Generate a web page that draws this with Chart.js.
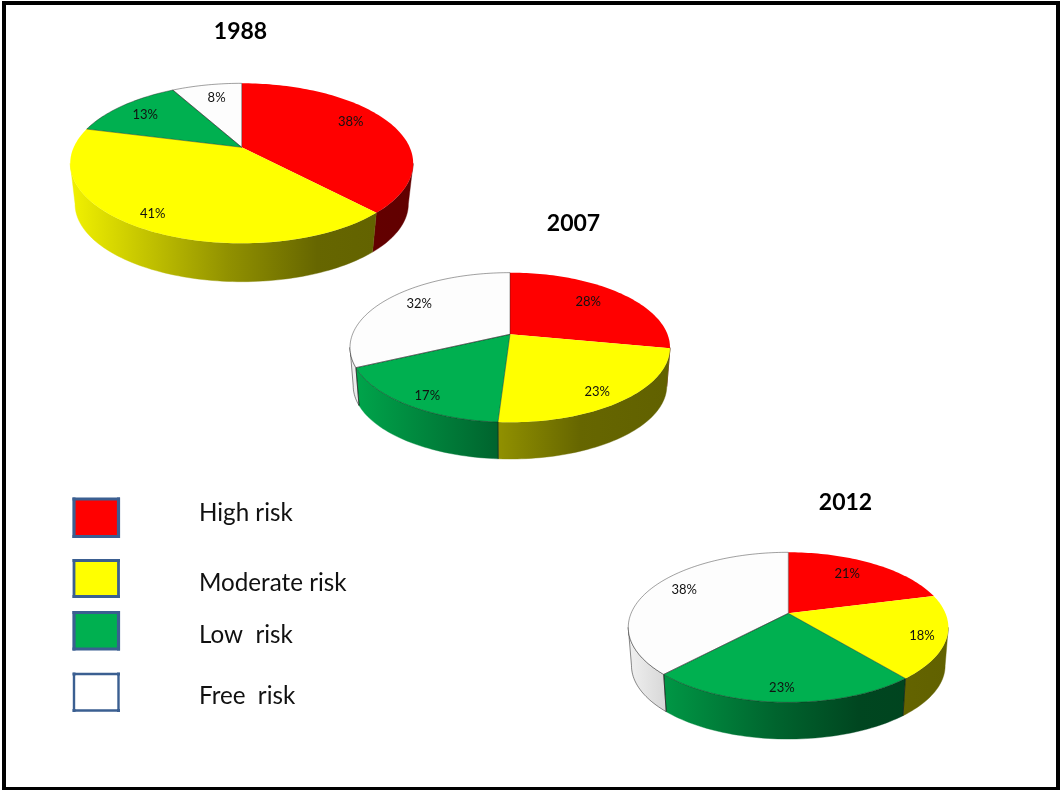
<!DOCTYPE html>
<html>
<head>
<meta charset="utf-8">
<script src="https://cdn.jsdelivr.net/npm/chart.js@4"></script>
<style>
  html, body { margin: 0; padding: 0; background: #fff; width: 1060px; height: 791px; overflow: hidden; }
  #frame { position: absolute; left: 2px; top: 1px; width: 1050px; height: 782px; border: solid #000; border-width: 4px 4px 3px 4px; }
  canvas { position: absolute; left: 0; top: 0; }
</style>
</head>
<body>
<div id="frame"></div>
<canvas id="pie1988" width="1060" height="791"></canvas>
<canvas id="pie2007" width="1060" height="791"></canvas>
<canvas id="pie2012" width="1060" height="791"></canvas>
<script>
// Risk categories shared by all three pies
const categories = ['High risk', 'Moderate risk', 'Low  risk', 'Free  risk'];

// Share of each category per survey year (percent)
const values1988 = [38, 41, 13, 8];
const values2007 = [28, 23, 17, 32];
const values2012 = [21, 18, 23, 38];

const sliceColors = [[255, 0, 0], [255, 255, 0], [0, 176, 80], [253, 253, 253]];
const outlined = [false, false, true, true];
const FONT = 'Lato, "Open Sans", sans-serif';

// Perspective disc: apex position, axis scales, foreshortening, wall depth and taper
const discs = {
  1988: { cx: 241.7, cy: 147.3, a: 168, b: 76.8, p: 0.2, s: 0.972, by: 188.4,
          title: { x: 240.5, y: 39 },
          labelR: [0.782, 0.869, 0.784, 0.751], labelNudge: [-5.6, 0.7, -1, 1.2] },
  2007: { cx: 510, cy: 334.3, a: 157.5, b: 72.5, p: 0.176, s: 0.98, by: 372.8,
          title: { x: 573.5, y: 231 },
          labelR: [0.728, 0.848, 0.867, 0.765], labelNudge: [-2.6, 2.8, -2.4, 3.3] },
  2012: { cx: 788.3, cy: 613.3, a: 157.2, b: 72.4, p: 0.187, s: 0.98, by: 651.8,
          title: { x: 845.5, y: 510 },
          labelR: [0.731, 0.855, 0.859, 0.784], labelNudge: [-3, 2, 0.5, 4.4] }
};

// Legend rows: swatch box and text baseline
const legendRows = [
  { top: 499, bottom: 536.5, base: 521, lw: 3.2 },
  { top: 560.5, bottom: 596.5, base: 591, lw: 2.8 },
  { top: 612.5, bottom: 649, base: 643, lw: 3.2 },
  { top: 674, bottom: 710.5, base: 704, lw: 2.4 }
];

function shade(rgb, f) {
  return `rgb(${rgb.map(c => Math.round(c * f)).join(',')})`;
}

function topPoint(d, angle, r) {
  const u = r * Math.cos(angle), v = r * Math.sin(angle), w = 1 - d.p * v;
  return [d.cx + d.a * u / w, d.cy + d.b * v / w];
}

function bottomPoint(d, angle) {
  const t = topPoint(d, angle, 1);
  return [d.cx + (t[0] - d.cx) * d.s, d.by + (t[1] - d.cy) * d.s];
}

function arcSamples(start, end) {
  const n = Math.max(4, Math.ceil((end - start) * 40)), out = [];
  for (let i = 0; i <= n; i++) out.push(start + (end - start) * i / n);
  return out;
}

// Wall lighting runs left to right across the disc
function wallGradient(ctx, d, rgb) {
  const half = d.a / Math.sqrt(1 - d.p * d.p);
  const g = ctx.createLinearGradient(d.cx - half, 0, d.cx + half, 0);
  g.addColorStop(0, shade(rgb, 0.95));
  g.addColorStop(0.46, shade(rgb, 0.57));
  g.addColorStop(0.72, shade(rgb, 0.4));
  g.addColorStop(1, shade(rgb, 0.38));
  return g;
}

const pie3d = {
  id: 'pie3d',
  beforeDatasetsDraw(chart) {
    const ctx = chart.ctx, d = discs[chart.options.plugins.pie3d.year];
    const arcs = chart.getDatasetMeta(0).data;
    const values = chart.data.datasets[0].data;
    // the wall is visible between the two silhouette angles of the disc
    const frontStart = Math.asin(d.p), frontEnd = Math.PI - frontStart;
    ctx.save();

    arcs.forEach((arc, i) => {
      const from = Math.max(arc.startAngle, frontStart);
      const to = Math.min(arc.endAngle, frontEnd);
      if (to <= from) return;
      const angles = arcSamples(from, to);
      ctx.beginPath();
      angles.forEach((a, k) => {
        const p = topPoint(d, a, 1);
        k ? ctx.lineTo(p[0], p[1]) : ctx.moveTo(p[0], p[1]);
      });
      angles.slice().reverse().forEach(a => {
        const p = bottomPoint(d, a);
        ctx.lineTo(p[0], p[1]);
      });
      ctx.closePath();
      const wall = wallGradient(ctx, d, sliceColors[i]);
      ctx.fillStyle = wall;
      ctx.fill();
      // the pale wall needs an edge to stand out from the page
      ctx.strokeStyle = i === 3 ? 'rgba(30,30,30,0.65)' : wall;
      ctx.lineWidth = i === 3 ? 0.8 : 0.4;
      ctx.stroke();
    });

    // vertical seams on the front of the wall next to outlined slices
    arcs.forEach((arc, i) => {
      const next = (i + 1) % arcs.length;
      if ((outlined[i] || outlined[next]) && arc.endAngle > frontStart && arc.endAngle < frontEnd) {
        const t = topPoint(d, arc.endAngle, 1), b = bottomPoint(d, arc.endAngle);
        ctx.beginPath();
        ctx.moveTo(t[0], t[1]);
        ctx.lineTo(b[0], b[1]);
        ctx.strokeStyle = 'rgba(20,20,20,0.7)';
        ctx.lineWidth = 0.8;
        ctx.stroke();
      }
    });

    // top faces
    arcs.forEach((arc, i) => {
      ctx.beginPath();
      ctx.moveTo(d.cx, d.cy);
      arcSamples(arc.startAngle, arc.endAngle).forEach(a => {
        const p = topPoint(d, a, 1);
        ctx.lineTo(p[0], p[1]);
      });
      ctx.closePath();
      ctx.fillStyle = shade(sliceColors[i], 1);
      ctx.fill();
    });
    arcs.forEach((arc, i) => {
      if (!outlined[i]) return;
      ctx.beginPath();
      ctx.moveTo(d.cx, d.cy);
      arcSamples(arc.startAngle, arc.endAngle).forEach(a => {
        const p = topPoint(d, a, 1);
        ctx.lineTo(p[0], p[1]);
      });
      ctx.closePath();
      ctx.strokeStyle = 'rgba(30,30,30,0.6)';
      ctx.lineWidth = 0.7;
      ctx.stroke();
    });

    // percentage labels
    ctx.fillStyle = '#111';
    ctx.font = `13px ${FONT}`;
    ctx.textAlign = 'center';
    ctx.textBaseline = 'middle';
    arcs.forEach((arc, i) => {
      const mid = (arc.startAngle + arc.endAngle) / 2 + d.labelNudge[i] * Math.PI / 180;
      const p = topPoint(d, mid, d.labelR[i]);
      ctx.fillText(`${values[i]}%`, p[0], p[1]);
    });

    // year heading
    ctx.fillStyle = '#000';
    ctx.font = `bold 23px ${FONT}`;
    ctx.textBaseline = 'alphabetic';
    ctx.fillText(String(chart.options.plugins.pie3d.year), d.title.x, d.title.y);

    ctx.restore();
    return false;
  }
};

// Category key at the lower left
const riskKey = {
  id: 'riskKey',
  afterDraw(chart) {
    if (chart.options.plugins.pie3d.year !== 1988) return;
    const ctx = chart.ctx;
    ctx.save();
    categories.forEach((name, i) => {
      const row = legendRows[i];
      ctx.fillStyle = shade(i === 3 ? [255, 255, 255] : sliceColors[i], 1);
      ctx.strokeStyle = '#3b5f91';
      ctx.lineWidth = row.lw;
      ctx.beginPath();
      ctx.rect(74, row.top, 44.5, row.bottom - row.top);
      ctx.fill();
      ctx.stroke();
      // small square handles at the box corners
      ctx.fillStyle = '#3b5f91';
      [74, 118.5].forEach(x => [row.top, row.bottom].forEach(y => {
        ctx.fillRect(x - 1.5, y - 1.5, 3, 3);
      }));
      ctx.fillStyle = '#111';
      ctx.font = `24.2px ${FONT}`;
      ctx.textAlign = 'left';
      ctx.textBaseline = 'alphabetic';
      ctx.fillText(name, 199, row.base);
    });
    ctx.restore();
  }
};

function makePie(canvasId, year, values) {
  return new Chart(document.getElementById(canvasId), {
    type: 'pie',
    data: {
      labels: categories,
      datasets: [{ data: values, backgroundColor: sliceColors.map(c => shade(c, 1)), borderWidth: 0 }]
    },
    options: {
      responsive: false,
      animation: false,
      events: [],
      rotation: 0,
      plugins: {
        legend: { display: false },
        tooltip: { enabled: false },
        title: { display: false },
        pie3d: { year }
      }
    },
    plugins: [pie3d, riskKey]
  });
}

makePie('pie1988', 1988, values1988);
makePie('pie2007', 2007, values2007);
makePie('pie2012', 2012, values2012);
</script>
</body>
</html>
